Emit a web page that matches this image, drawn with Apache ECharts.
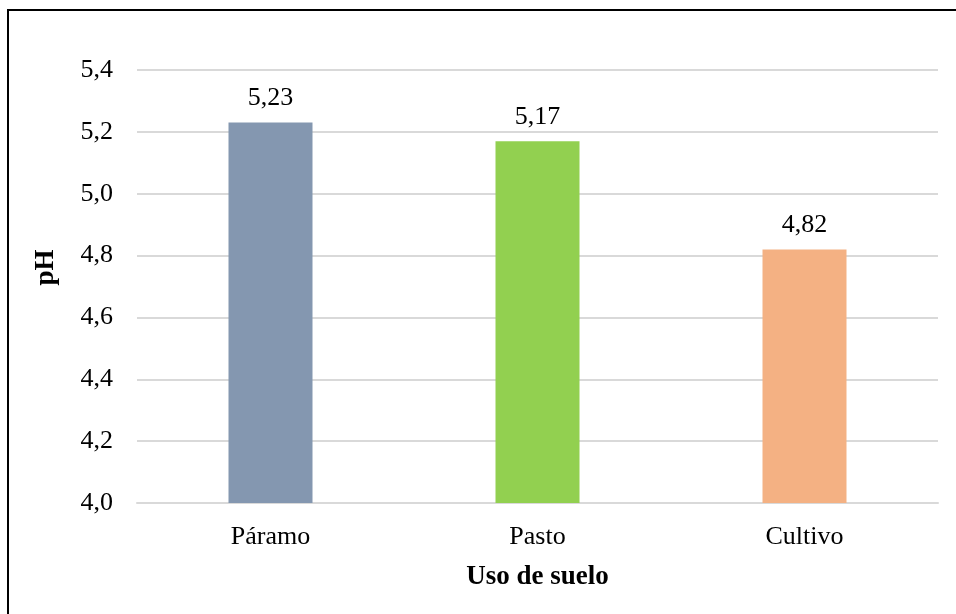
<!DOCTYPE html>
<html>
<head>
<meta charset="utf-8">
<script src="https://cdn.jsdelivr.net/npm/echarts@6/dist/echarts.min.js"></script>
<style>
  html, body { margin: 0; padding: 0; background: #fff; overflow: hidden; }
  #frame { position: absolute; left: 7px; top: 9px; width: 980px; height: 640px;
           border-left: 2px solid #000; border-top: 2px solid #000; }
  #main { position: absolute; left: 0; top: 0; width: 956px; height: 614px; }
</style>
</head>
<body>
<div id="frame"></div>
<div id="main"></div>
<script>
// datos
const categories = ['Páramo', 'Pasto', 'Cultivo'];
const phValues = [5.23, 5.17, 4.82];
const barColors = ['#8497B0', '#92D050', '#F4B183'];

const fmt = v => v.toFixed(2).replace('.', ',');
const font = 'Liberation Serif';
const fs = 26;

const myChart = echarts.init(document.getElementById('main'));
const option = {
    animation: false,
    grid: { left: 137, right: 18, top: 70, bottom: 111 },
    xAxis: {
        type: 'category',
        data: categories,
        axisLine: { show: true, lineStyle: { color: '#d9d9d9', width: 2 } },
        axisTick: { show: false },
        axisLabel: { color: '#000', fontFamily: font, fontSize: fs, margin: 21 },
        name: 'Uso de suelo',
        nameLocation: 'middle',
        nameGap: 61,
        nameTextStyle: { color: '#000', fontFamily: font, fontSize: 27, fontWeight: 'bold' }
    },
    yAxis: {
        type: 'value',
        min: 4.0,
        max: 5.4,
        interval: 0.2,
        axisLine: { show: false },
        axisTick: { show: false },
        splitLine: { lineStyle: { color: '#d9d9d9', width: 2 } },
        axisLabel: {
            color: '#000', fontFamily: font, fontSize: fs, margin: 24,
            formatter: v => v.toFixed(1).replace('.', ',')
        },
        name: 'pH',
        nameLocation: 'middle',
        nameRotate: 90,
        nameGap: 77,
        nameTextStyle: { color: '#000', fontFamily: font, fontSize: 27, fontWeight: 'bold', padding: [0, 0, 0, 38] }
    },
    series: [{
        type: 'bar',
        barWidth: 84,
        data: phValues.map((v, i) => ({ value: v, itemStyle: { color: barColors[i] } })),
        label: {
            show: true,
            position: 'top',
            distance: 11,
            color: '#000',
            fontFamily: font,
            fontSize: fs,
            formatter: p => fmt(p.value)
        }
    }]
};
myChart.setOption(option);
</script>
</body>
</html>
